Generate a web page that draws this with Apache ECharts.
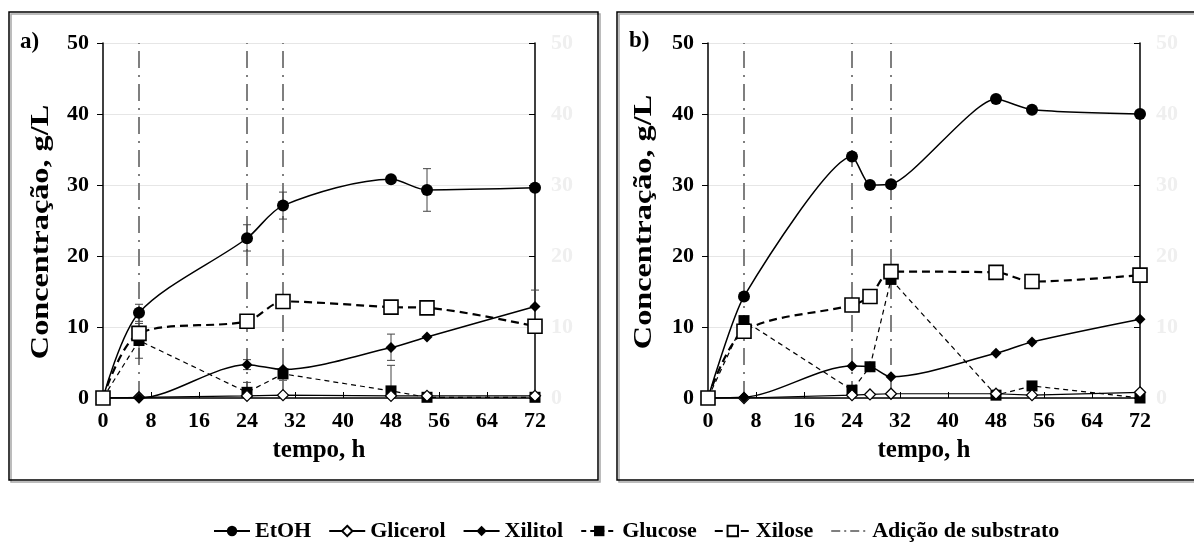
<!DOCTYPE html>
<html>
<head>
<meta charset="utf-8">
<script src="https://cdn.jsdelivr.net/npm/echarts@6/dist/echarts.min.js"></script>
<style>
  html, body { margin: 0; padding: 0; background: #fff; }
  #chart { width: 1194px; height: 543px; }
</style>
</head>
<body>
<div id="chart"></div>
<script>
// painel a)
var timeA = [0, 6, 24, 30, 48, 54, 72];
var etohA = [0, 12.0, 22.5, 27.1, 30.8, 29.3, 29.6];
var glicerolA = [0, 0.1, 0.3, 0.4, 0.3, 0.3, 0.3];
var xilitolA = [0, 0, 4.7, 4.0, 7.1, 8.6, 12.9];
var glucoseA = [0, 8.1, 0.8, 3.4, 1.0, 0.1, 0.1];
var xiloseA = [0, 9.1, 10.8, 13.6, 12.8, 12.7, 10.1];
var additionsA = [6, 24, 30];
// barras de erro: [tempo, min, max]
var errorsA = [
  [6, 10.8, 13.2], [24, 20.7, 24.4], [30, 25.2, 29.0], [48, 30.3, 31.3], [54, 26.3, 32.3],
  [6, 5.6, 10.5], [24, 0, 2.2], [30, 2.5, 4.2], [48, 0, 4.6],
  [24, 4.0, 5.4], [48, 5.3, 9.0], [72, 10.7, 15.2]
];

// painel b)
var timeB = [0, 6, 24, 27, 30.5, 48, 54, 72];
var etohB = [0, 14.3, 34.0, 30.0, 30.1, 42.1, 40.6, 40.0];
var glicerolB = [0, 0, 0.4, 0.5, 0.6, 0.6, 0.4, 0.8];
var xilitolB = [0, 0.1, 4.5, 4.4, 3.0, 6.3, 7.9, 11.1];
var glucoseB = [0, 10.9, 1.1, 4.4, 16.7, 0.4, 1.7, 0];
var xiloseB = [0, 9.4, 13.1, 14.3, 17.8, 17.7, 16.4, 17.3];
var additionsB = [6, 24, 30.5];

var names = ['EtOH', 'Glicerol', 'Xilitol', 'Glucose', 'Xilose', 'Adição de substrato'];

var FONT = 'Liberation Serif';
var DASHDOT = [17, 7, 2, 7];

function pairs(t, v) {
  return t.map(function (x, i) { return [x, v[i]]; });
}

// linhas verticais: [t,0] -> [t,50], quebradas com '-'
function vlines(ts) {
  var out = [];
  ts.forEach(function (t) {
    out.push([t, 0], [t, 50], [t, '-']);
  });
  return out;
}

function axesFor(g) {
  var x = {
    type: 'value', gridIndex: g, min: 0, max: 72, interval: 8,
    name: 'tempo, h', nameLocation: 'middle', nameGap: 40,
    nameTextStyle: { fontFamily: FONT, fontWeight: 'bold', fontSize: 25, color: '#000' },
    axisLine: { lineStyle: { color: '#000', width: 1.5 } },
    axisTick: { inside: true, length: 6, lineStyle: { color: '#000' } },
    axisLabel: { fontFamily: FONT, fontWeight: 'bold', fontSize: 22, color: '#000', margin: 12 },
    splitLine: { show: false }
  };
  var yl = {
    type: 'value', gridIndex: g, min: 0, max: 50, interval: 10, position: 'left',
    axisLine: { show: true, lineStyle: { color: '#000', width: 1.5 } },
    axisTick: { show: true, length: 6, lineStyle: { color: '#000' } },
    axisLabel: { fontFamily: FONT, fontWeight: 'bold', fontSize: 22, color: '#000', margin: 14 },
    splitLine: { show: true, lineStyle: { color: '#e6e6e6', width: 1 } }
  };
  var yr = {
    type: 'value', gridIndex: g, min: 0, max: 50, interval: 10, position: 'right',
    axisLine: { show: true, lineStyle: { color: '#000', width: 1.5 } },
    axisTick: { show: true, inside: true, length: 6, lineStyle: { color: '#000' } },
    axisLabel: { fontFamily: FONT, fontWeight: 'bold', fontSize: 22, color: '#efefef', margin: 16 },
    splitLine: { show: false }
  };
  return [x, yl, yr];
}

function seriesFor(g, t, etoh, glic, xil, gluc, xil2, adds, errs, sm) {
  var base = { xAxisIndex: g, yAxisIndex: g * 2, animation: false };
  return [
    Object.assign({}, base, {
      name: 'Adição de substrato', type: 'line', data: vlines(adds), symbol: 'none', z: 1,
      lineStyle: { color: '#7f7f7f', width: 2, type: DASHDOT },
      itemStyle: { color: '#7f7f7f' }
    }),
    Object.assign({}, base, {
      name: 'erro' + g, type: 'custom', data: errs, z: 2,
      encode: { x: 0, y: [1, 2] },
      renderItem: function (params, api) {
        var lo = api.coord([api.value(0), api.value(1)]);
        var hi = api.coord([api.value(0), api.value(2)]);
        var st = { stroke: '#444', lineWidth: 1 };
        return {
          type: 'group', children: [
            { type: 'line', shape: { x1: lo[0], y1: lo[1], x2: hi[0], y2: hi[1] }, style: st },
            { type: 'line', shape: { x1: lo[0] - 4, y1: lo[1], x2: lo[0] + 4, y2: lo[1] }, style: st },
            { type: 'line', shape: { x1: hi[0] - 4, y1: hi[1], x2: hi[0] + 4, y2: hi[1] }, style: st }
          ]
        };
      }
    }),
    Object.assign({}, base, {
      name: 'Glucose', type: 'line', data: pairs(t, gluc), z: 3,
      symbol: 'rect', symbolSize: 11,
      lineStyle: { color: '#000', width: 1.2, type: [5, 4] },
      itemStyle: { color: '#000' }
    }),
    Object.assign({}, base, {
      name: 'Glicerol', type: 'line', data: pairs(t, glic), z: 4,
      symbol: 'diamond', symbolSize: 11,
      lineStyle: { color: '#000', width: 1.2 },
      itemStyle: { color: '#fff', borderColor: '#000', borderWidth: 1.3 }
    }),
    Object.assign({}, base, {
      name: 'Xilitol', type: 'line', data: pairs(t, xil), z: 5, smooth: 0.3,
      symbol: 'diamond', symbolSize: 11,
      lineStyle: { color: '#000', width: 1.5 },
      itemStyle: { color: '#000' }
    }),
    Object.assign({}, base, {
      name: 'EtOH', type: 'line', data: pairs(t, etoh), z: 6, smooth: sm,
      symbol: 'circle', symbolSize: 12,
      lineStyle: { color: '#000', width: 1.5 },
      itemStyle: { color: '#000' }
    }),
    Object.assign({}, base, {
      name: 'Xilose', type: 'line', data: pairs(t, xil2), z: 7, smooth: 0.3,
      symbol: 'rect', symbolSize: 14,
      lineStyle: { color: '#000', width: 2.2, type: [8, 5] },
      itemStyle: { color: '#fff', borderColor: '#000', borderWidth: 1.6 }
    })
  ];
}

function yName(cx, cy) {
  return {
    type: 'text', x: cx, y: cy, rotation: Math.PI / 2, scaleX: 1.24,
    style: {
      text: 'Concentração, g/L', font: 'bold 26px "Liberation Serif"', fill: '#000',
      textAlign: 'center', textVerticalAlign: 'middle'
    }
  };
}

var axA = axesFor(0);
var axB = axesFor(1);

var legendData = names.map(function (n) {
  if (n === 'Adição de substrato') {
    return { name: n, itemStyle: { opacity: 0 }, lineStyle: { type: [9, 4, 2, 4] } };
  }
  return n;
});

var chart = echarts.init(document.getElementById('chart'), null, { renderer: 'canvas' });
chart.setOption({
  backgroundColor: '#fff',
  animation: false,
  grid: [
    { left: 103, top: 43, width: 432, height: 355 },
    { left: 708, top: 43, width: 432, height: 355 }
  ],
  xAxis: [axA[0], axB[0]],
  yAxis: [axA[1], axA[2], axB[1], axB[2]],
  legend: {
    data: legendData, top: 515, left: 208, itemGap: 17, itemWidth: 36, itemHeight: 13,
    textStyle: { fontFamily: FONT, fontWeight: 'bold', fontSize: 22, color: '#000' }
  },
  graphic: [
    { type: 'rect', shape: { x: 9, y: 12, width: 589, height: 468 }, z: 0,
      style: { fill: 'none', stroke: '#000', lineWidth: 1.5, shadowColor: 'rgba(0,0,0,0.35)', shadowOffsetX: 2, shadowOffsetY: 2 } },
    { type: 'rect', shape: { x: 617, y: 12, width: 620, height: 468 }, z: 0,
      style: { fill: 'none', stroke: '#000', lineWidth: 1.5, shadowColor: 'rgba(0,0,0,0.35)', shadowOffsetX: 2, shadowOffsetY: 2 } },
    { type: 'text', left: 20, top: 31,
      style: { text: 'a)', font: 'bold 23px "Liberation Serif"', fill: '#000' } },
    { type: 'text', left: 629, top: 30,
      style: { text: 'b)', font: 'bold 23px "Liberation Serif"', fill: '#000' } },
    yName(41, 232),
    yName(644, 222)
  ],
  series: [].concat(
    seriesFor(0, timeA, etohA, glicerolA, xilitolA, glucoseA, xiloseA, additionsA, errorsA, 0.3),
    seriesFor(1, timeB, etohB, glicerolB, xilitolB, glucoseB, xiloseB, additionsB, [], 0.2)
  )
});
</script>
</body>
</html>
